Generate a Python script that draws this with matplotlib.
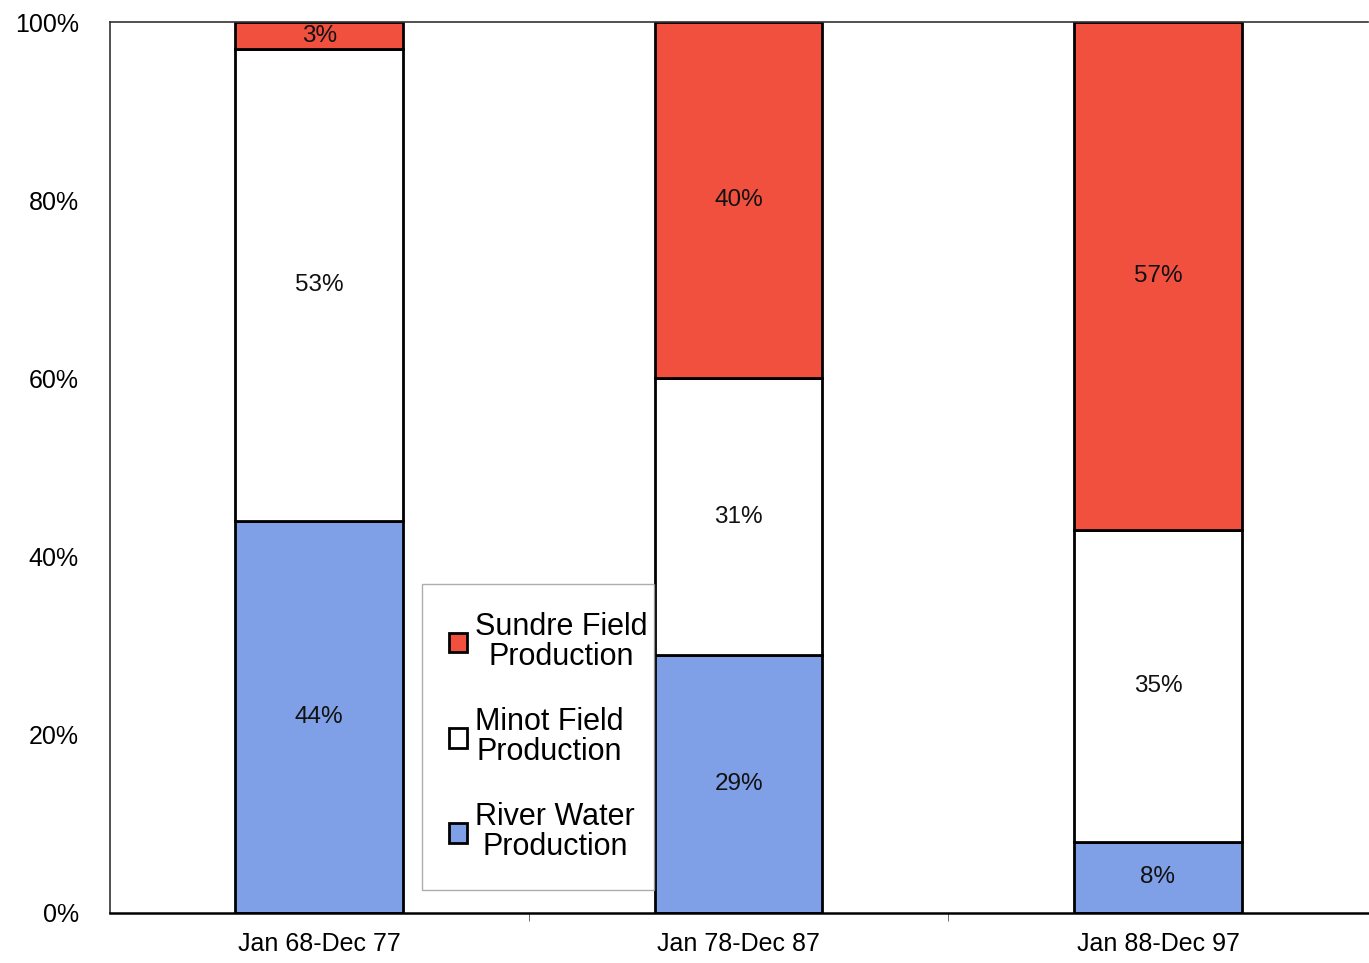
import numpy as np
import matplotlib.pyplot as plt

plt.rcParams['font.family'] = ['Liberation Sans', 'DejaVu Sans']

# data (percent of production)
periods = ['Jan 68-Dec 77', 'Jan 78-Dec 87', 'Jan 88-Dec 97']
river = [44, 29, 8]
minot = [53, 31, 35]
sundre = [3, 40, 57]

series = [('River Water\nProduction', river, '#7f9fe6'),
          ('Minot Field\nProduction', minot, '#ffffff'),
          ('Sundre Field\nProduction', sundre, '#f2503f')]

fig = plt.figure(figsize=(13.69, 9.63), dpi=100)
ax = fig.add_axes([0.080, 0.052, 0.919, 0.925])

x = np.arange(len(periods))
bottom = np.zeros(len(periods))
handles = []
for label, vals, color in series:
    vals = np.array(vals, dtype=float)
    bars = ax.bar(x, vals, width=0.4, bottom=bottom, color=color,
                  edgecolor='black', linewidth=2, label=label, zorder=2)
    handles.append(bars)
    for xi, b, v in zip(x, bottom, vals):
        ax.text(xi, b + v / 2, f'{int(v)}%', ha='center', va='center',
                fontsize=17.5, color='#111111', zorder=3)
    bottom += vals

ax.set_xlim(-0.5, 2.5)
ax.set_ylim(0, 100)
ax.set_yticks(np.arange(0, 101, 20))
ax.set_yticklabels([f'{t}%' for t in range(0, 101, 20)], fontsize=18)
ax.tick_params(axis='y', length=0, pad=22)
ax.set_xticks(x)
ax.set_xticklabels(periods, fontsize=18)
ax.tick_params(axis='x', length=0, pad=14)
ax.set_xticks([0.5, 1.5], minor=True)
ax.tick_params(axis='x', which='minor', length=6, color='#555555')

for side in ['top', 'left']:
    ax.spines[side].set_color('#333333')
    ax.spines[side].set_linewidth(1.2)
ax.spines['bottom'].set_linewidth(1.8)
ax.spines['right'].set_visible(False)

leg = ax.legend(handles=handles[::-1], loc='lower left',
                bbox_to_anchor=(0.248, 0.026, 0.185, 0.354), mode='expand',
                fontsize=22, frameon=True, fancybox=False, edgecolor='#999999',
                handlelength=0.6, handleheight=0.6, handletextpad=0.25,
                labelspacing=1.15, borderpad=0.9, borderaxespad=0)
leg.set_zorder(5)
for t in leg.get_texts():
    t.set_multialignment('center')
    t.set_linespacing(1.0)

fig.savefig('out.png', dpi=100)
